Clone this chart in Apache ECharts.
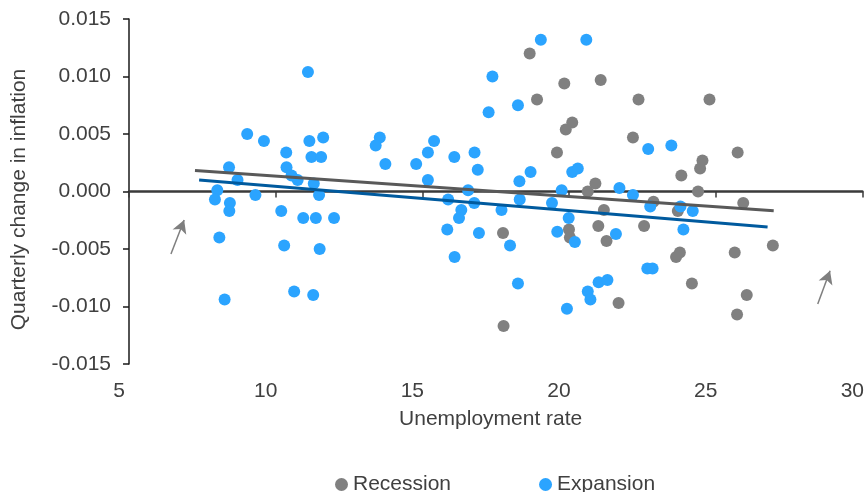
<!DOCTYPE html>
<html>
<head>
<meta charset="utf-8">
<script src="https://cdn.jsdelivr.net/npm/echarts@6/dist/echarts.min.js"></script>
<style>
  html, body { margin: 0; padding: 0; background: #fff; }
  #chart { width: 867px; height: 492px; }
</style>
</head>
<body>
<div id="chart"></div>
<script>
// [unemployment rate, quarterly change in inflation]
var recession = [
  [18.66, 0.0120], [19.84, 0.0094], [18.91, 0.0080], [20.11, 0.0060], [19.89, 0.0054],
  [19.59, 0.0034], [17.75, -0.0036], [20.00, -0.0033], [20.03, -0.0040], [17.77, -0.0117],
  [21.08, 0.0097], [22.37, 0.0080], [24.79, 0.0080], [22.18, 0.0047], [25.75, 0.0034],
  [24.55, 0.0027], [24.47, 0.0020], [23.83, 0.0014], [20.90, 0.0007], [20.64, 0.0000],
  [24.40, 0.0000], [22.88, -0.0009], [21.19, -0.0016], [23.71, -0.0017], [25.94, -0.0010],
  [21.00, -0.0030], [22.56, -0.0030], [21.28, -0.0043], [23.78, -0.0053], [23.65, -0.0057],
  [25.65, -0.0053], [26.95, -0.0047], [24.19, -0.0080], [21.69, -0.0097], [26.06, -0.0090],
  [25.73, -0.0107]
];
var expansion = [
  [11.10, 0.0104], [9.03, 0.0050], [9.60, 0.0044], [11.15, 0.0044], [11.62, 0.0047],
  [10.36, 0.0034], [11.22, 0.0030], [11.55, 0.0030], [13.55, 0.0047], [13.41, 0.0040],
  [13.74, 0.0024], [8.41, 0.0021], [8.70, 0.0010], [10.37, 0.0021], [10.54, 0.0014],
  [10.75, 0.0010], [11.30, 0.0007], [8.01, 0.0001], [9.31, -0.0003], [11.48, -0.0003],
  [7.93, -0.0007], [8.44, -0.0010], [8.42, -0.0017], [10.19, -0.0017], [10.94, -0.0023],
  [11.37, -0.0023], [11.99, -0.0023], [8.08, -0.0040], [10.29, -0.0047], [11.50, -0.0050],
  [8.26, -0.0094], [10.63, -0.0087], [11.28, -0.0090], [19.04, 0.0132], [20.59, 0.0132],
  [17.39, 0.0100], [18.26, 0.0075], [17.26, 0.0069], [15.40, 0.0044], [15.19, 0.0034],
  [16.09, 0.0030], [16.78, 0.0034], [16.89, 0.0019], [14.79, 0.0024], [15.19, 0.0010],
  [18.31, 0.0009], [18.69, 0.0017], [20.11, 0.0017], [20.30, 0.0020], [19.75, 0.0001],
  [16.56, 0.0001], [15.88, -0.0007], [16.77, -0.0010], [18.32, -0.0007], [19.42, -0.0010],
  [16.33, -0.0016], [16.25, -0.0023], [17.70, -0.0016], [19.99, -0.0023], [15.85, -0.0033],
  [16.93, -0.0036], [19.60, -0.0035], [20.20, -0.0044], [17.99, -0.0047], [16.10, -0.0057],
  [18.26, -0.0080], [19.93, -0.0102], [22.70, 0.0037], [23.49, 0.0040], [21.72, 0.0003],
  [22.18, -0.0003], [22.77, -0.0013], [23.80, -0.0013], [24.22, -0.0017], [21.60, -0.0037],
  [23.90, -0.0033], [22.67, -0.0067], [22.85, -0.0067], [21.01, -0.0079], [21.31, -0.0077],
  [20.64, -0.0087], [20.73, -0.0094]
];
var recessionTrend = [[7.25, 0.00183], [26.98, -0.00167]];
var expansionTrend = [[7.39, 0.00100], [26.77, -0.00309]];
var arrows = [
  [[6.43, -0.00543], [6.88, -0.00248]],
  [[28.48, -0.00978], [28.90, -0.00689]]
];
var xTicks = [5, 10, 15, 20, 25, 30];
var yTicks = [-0.015, -0.010, -0.005, 0.000, 0.005, 0.010, 0.015];

var font = '"Liberation Sans", Arial, sans-serif';
var textColor = '#404040';

var chart = echarts.init(document.getElementById('chart'));

var option = {
  animation: false,
  textStyle: { fontFamily: font },
  grid: { left: 129, right: 4, top: 19, bottom: 128 },
  legend: {
    data: ['Recession', 'Expansion'],
    left: 330,
    top: 469,
    icon: 'circle',
    itemWidth: 13,
    itemHeight: 13,
    itemGap: 88,
    textStyle: { fontFamily: font, fontSize: 21, color: textColor }
  },
  xAxis: [
    {
      type: 'value',
      min: xTicks[0],
      max: xTicks[xTicks.length - 1],
      interval: 5,
      position: 'bottom',
      name: 'Unemployment rate',
      nameLocation: 'middle',
      nameGap: 45,
      nameTextStyle: { fontFamily: font, fontSize: 21, color: textColor, padding: [0, 10, 0, 0] },
      axisLine: { show: false, onZero: false },
      axisTick: { show: false },
      splitLine: { show: false },
      axisLabel: { fontFamily: font, fontSize: 21, color: textColor, margin: 17, padding: [0, 20, 0, 0] }
    },
    {
      type: 'value',
      min: xTicks[0],
      max: xTicks[xTicks.length - 1],
      interval: 5,
      position: 'bottom',
      axisLine: { show: true, onZero: true, lineStyle: { color: '#3a3a3a', width: 2.5 } },
      axisTick: { show: true, length: 6, lineStyle: { color: '#3a3a3a', width: 1.5 } },
      axisLabel: { show: false },
      splitLine: { show: false }
    }
  ],
  yAxis: {
    type: 'value',
    min: yTicks[0],
    max: yTicks[yTicks.length - 1],
    interval: 0.005,
    name: 'Quarterly change in inflation',
    nameLocation: 'middle',
    nameGap: 99,
    nameTextStyle: { fontFamily: font, fontSize: 21, color: textColor, padding: [0, 16, 0, 0] },
    axisLine: { show: true, onZero: false, lineStyle: { color: '#1a1a1a', width: 1.5 } },
    axisTick: { show: true, length: 6, lineStyle: { color: '#1a1a1a', width: 1.5 } },
    splitLine: { show: false },
    axisLabel: {
      fontFamily: font, fontSize: 21, color: textColor, margin: 18,
      formatter: function (v) { return v.toFixed(3); }
    }
  },
  series: [
    {
      name: 'Recession',
      type: 'scatter',
      symbolSize: 12,
      itemStyle: { color: '#808080', opacity: 1 },
      data: recession,
      z: 2
    },
    {
      name: 'Expansion',
      type: 'scatter',
      symbolSize: 12,
      itemStyle: { color: '#2ba4ff', opacity: 1 },
      data: expansion,
      z: 3,
      markLine: {
        silent: true,
        symbol: ['none', 'arrow'],
        symbolSize: [11, 13],
        label: { show: false },
        lineStyle: { color: '#7f7f7f', width: 1.5, type: 'solid' },
        data: arrows.map(function (a) {
          return [{ coord: a[0] }, { coord: a[1] }];
        })
      }
    },
    {
      name: 'Recession trend',
      type: 'line',
      data: recessionTrend,
      symbol: 'none',
      lineStyle: { color: '#595959', width: 3 },
      z: 4
    },
    {
      name: 'Expansion trend',
      type: 'line',
      data: expansionTrend,
      symbol: 'none',
      lineStyle: { color: '#005a9e', width: 3 },
      z: 4
    }
  ]
};

chart.setOption(option);
</script>
</body>
</html>
